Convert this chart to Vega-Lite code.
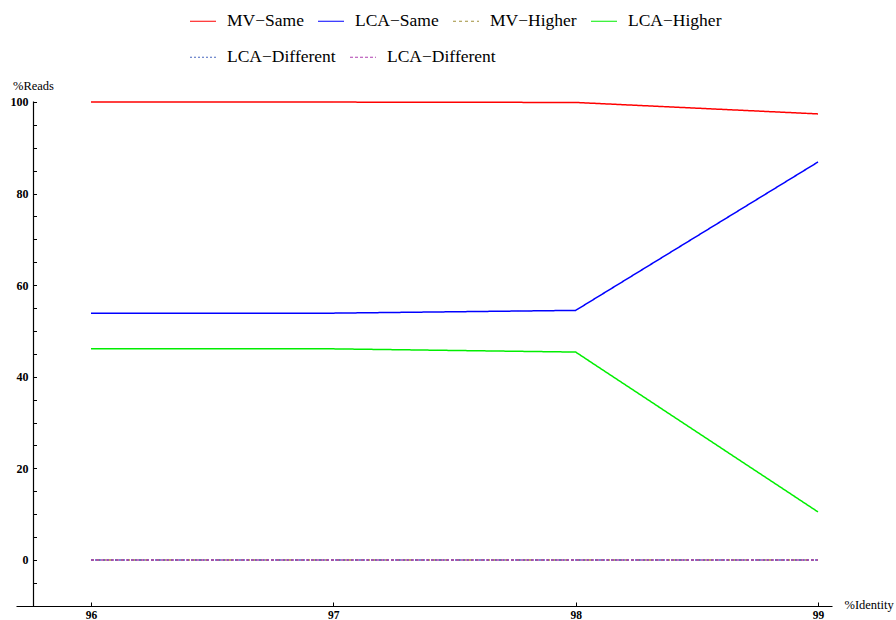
{
  "$schema": "https://vega.github.io/schema/vega-lite/v6.json",
  "width": 816,
  "height": 505,
  "autosize": {"type": "none"},
  "padding": {"left": 16, "top": 101, "right": 64, "bottom": 14},
  "background": "white",
  "config": {
    "view": {"stroke": null},
    "font": "Liberation Serif",
    "legend": {
      "title": null,
      "orient": "none",
      "direction": "horizontal",
      "columnPadding": 11,
      "padding": 0,
      "symbolType": "stroke",
      "symbolSize": 676,
      "symbolStrokeWidth": 1.2,
      "labelFont": "Liberation Serif",
      "labelFontSize": 17.5,
      "labelColor": "black",
      "labelOffset": 10,
      "labelLimit": 300
    }
  },
  "data": {
    "values": [
      {"series": "MV−Same", "identity": 96, "reads": 99.98},
      {"series": "MV−Same", "identity": 97, "reads": 99.98},
      {"series": "MV−Same", "identity": 98, "reads": 99.9},
      {"series": "MV−Same", "identity": 99, "reads": 97.4},
      {"series": "LCA−Same", "identity": 96, "reads": 53.9},
      {"series": "LCA−Same", "identity": 97, "reads": 53.9},
      {"series": "LCA−Same", "identity": 98, "reads": 54.5},
      {"series": "LCA−Same", "identity": 99, "reads": 86.9},
      {"series": "MV−Higher", "identity": 96, "reads": 0},
      {"series": "MV−Higher", "identity": 97, "reads": 0},
      {"series": "MV−Higher", "identity": 98, "reads": 0},
      {"series": "MV−Higher", "identity": 99, "reads": 0},
      {"series": "LCA−Higher", "identity": 96, "reads": 46.1},
      {"series": "LCA−Higher", "identity": 97, "reads": 46.1},
      {"series": "LCA−Higher", "identity": 98, "reads": 45.4},
      {"series": "LCA−Higher", "identity": 99, "reads": 10.5},
      {"series": "LCA−Different", "identity": 96, "reads": 0},
      {"series": "LCA−Different", "identity": 97, "reads": 0},
      {"series": "LCA−Different", "identity": 98, "reads": 0},
      {"series": "LCA−Different", "identity": 99, "reads": 0},
      {"series": "LCA−Different 2", "identity": 96, "reads": 0},
      {"series": "LCA−Different 2", "identity": 97, "reads": 0},
      {"series": "LCA−Different 2", "identity": 98, "reads": 0},
      {"series": "LCA−Different 2", "identity": 99, "reads": 0}
    ]
  },
  "encoding": {
    "x": {
      "field": "identity",
      "type": "quantitative",
      "scale": {"domain": [95.6905, 99.0578], "nice": false, "zero": false},
      "axis": {
        "orient": "bottom",
        "values": [96, 97, 98, 99],
        "format": "d",
        "grid": false,
        "domainColor": "black",
        "domainWidth": 1.2,
        "tickColor": "black",
        "tickSize": -4,
        "tickWidth": 1,
        "labelFont": "Liberation Serif",
        "labelFontSize": 11.5,
        "labelFontWeight": "bold",
        "labelColor": "black",
        "labelPadding": 7.5,
        "labelFlush": false,
        "title": "%Identity",
        "titleFont": "Liberation Serif",
        "titleFontSize": 12.5,
        "titleFontWeight": "normal",
        "titleColor": "black",
        "titleAlign": "left",
        "titleBaseline": "middle",
        "titleAnchor": null,
        "titleX": 828,
        "titleY": -2
      }
    },
    "y": {
      "field": "reads",
      "type": "quantitative",
      "scale": {"domain": [-10.044, 100.218], "nice": false, "zero": false},
      "axis": {
        "orient": "left",
        "offset": -17,
        "values": [-5, 0, 5, 10, 15, 20, 25, 30, 35, 40, 45, 50, 55, 60, 65, 70, 75, 80, 85, 90, 95, 100],
        "labelExpr": "datum.value % 20 === 0 ? datum.label : ''",
        "grid": false,
        "domainColor": "black",
        "domainWidth": 1.2,
        "tickColor": "black",
        "tickSize": -3.5,
        "tickWidth": 1,
        "labelFont": "Liberation Serif",
        "labelFontSize": 12,
        "labelFontWeight": "bold",
        "labelColor": "black",
        "labelPadding": 8.5,
        "labelFlush": false,
        "title": "%Reads",
        "titleFont": "Liberation Serif",
        "titleFontSize": 12.5,
        "titleFontWeight": "normal",
        "titleColor": "black",
        "titleAngle": 0,
        "titleAlign": "center",
        "titleBaseline": "alphabetic",
        "titleAnchor": null,
        "titleX": 0,
        "titleY": -12
      }
    },
    "strokeDash": {
      "field": "series",
      "type": "nominal",
      "scale": {
        "domain": ["MV−Same", "LCA−Same", "MV−Higher", "LCA−Higher", "LCA−Different", "LCA−Different 2"],
        "range": [[1, 0], [1, 0], [3, 3], [1, 0], [2, 2], [3, 2]]
      },
      "legend": null
    },
    "order": {"field": "identity", "type": "quantitative"}
  },
  "layer": [
    {
      "transform": [{"filter": "indexof(['MV−Same', 'LCA−Same', 'MV−Higher', 'LCA−Higher'], datum.series) >= 0"}],
      "mark": {"type": "line", "strokeWidth": 1.5},
      "encoding": {
        "color": {
          "field": "series",
          "type": "nominal",
          "sort": ["MV−Same", "LCA−Same", "MV−Higher", "LCA−Higher"],
          "scale": {
            "domain": ["MV−Same", "LCA−Same", "MV−Higher", "LCA−Higher"],
            "range": ["#ff0000", "#0000ff", "#a0903a", "#00ee00"]
          },
          "legend": {
            "legendX": 173,
            "legendY": -94,
            "encode": {
              "symbols": {
                "update": {
                  "strokeDash": {"signal": "datum.value === 'MV−Higher' ? [3, 3] : [1, 0]"}
                }
              }
            }
          }
        }
      }
    },
    {
      "transform": [{"filter": "indexof(['LCA−Different', 'LCA−Different 2'], datum.series) >= 0"}],
      "mark": {"type": "line", "strokeWidth": 1.5},
      "encoding": {
        "stroke": {
          "field": "series",
          "type": "nominal",
          "sort": ["LCA−Different", "LCA−Different 2"],
          "scale": {
            "domain": ["LCA−Different", "LCA−Different 2"],
            "range": ["#4a68c0", "#b040b0"]
          },
          "legend": {
            "legendX": 173,
            "legendY": -58,
            "labelExpr": "replace(datum.label, ' 2', '')",
            "encode": {
              "symbols": {
                "update": {
                  "strokeDash": {"signal": "datum.value === 'LCA−Different' ? [2, 2] : [3, 2]"}
                }
              }
            }
          }
        }
      }
    }
  ]
}
